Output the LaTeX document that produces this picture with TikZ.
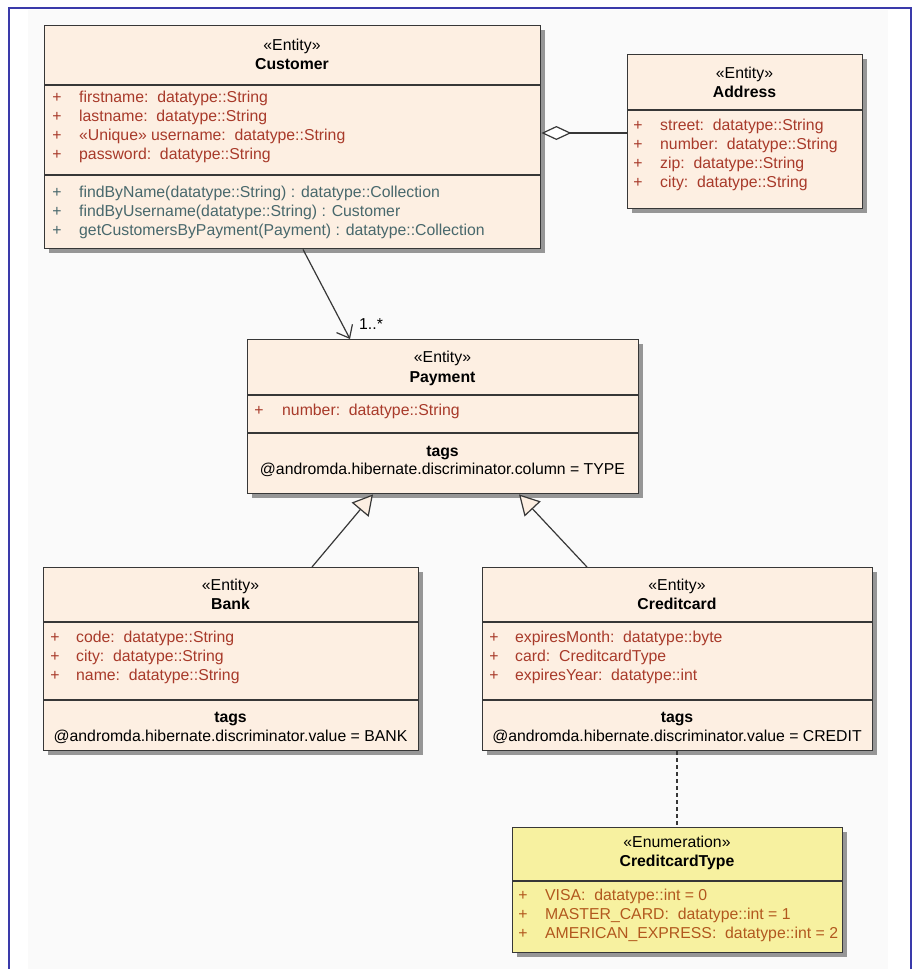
\documentclass[tikz,border=0pt]{standalone}
\usepackage{fontspec}
\setmainfont{Liberation Sans}
\usetikzlibrary{shadows,arrows.meta,calc}
\definecolor{entfill}{RGB}{253,239,226}
\definecolor{enumfill}{RGB}{247,241,160}
\definecolor{attrcol}{RGB}{168,58,42}
\definecolor{opcol}{RGB}{72,104,108}
\definecolor{enumcol}{RGB}{178,88,30}
\definecolor{framecol}{RGB}{58,58,170}
\definecolor{bgcol}{RGB}{250,250,250}
\definecolor{edgecol}{RGB}{55,55,55}
\begin{document}
\begin{tikzpicture}[x=1pt,y=-1pt,
  cls/.style={draw=edgecol, line width=1.4pt, fill=entfill, anchor=north west, inner sep=0pt,
    drop shadow={shadow xshift=4pt, shadow yshift=-4pt, fill=black, opacity=0.4}},
  enumcls/.style={cls, fill=enumfill},
  divider/.style={draw=edgecol, line width=1.4pt},
  txt/.style={font=\fontsize{15.8}{19}\selectfont, inner sep=0pt, anchor=base},
  ster/.style={txt},
  cname/.style={txt, font=\fontsize{15.8}{19}\selectfont\bfseries},
  plus/.style={txt, text=attrcol},
  attr/.style={txt, anchor=base west, text=attrcol},
  opplus/.style={txt, text=opcol},
  op/.style={txt, anchor=base west, text=opcol},
  enplus/.style={txt, text=enumcol},
  enitem/.style={txt, anchor=base west, text=enumcol},
  tagline/.style={txt},
  conn/.style={draw=edgecol, line width=1.2pt},
]
\useasboundingbox (0,0) rectangle (915,969);
\fill[white] (0,0) rectangle (915,969);
\fill[bgcol] (28,10) rectangle (888,969);
\draw[framecol, line width=2pt] (9,969) -- (9,8) -- (911,8) -- (911,969);

% ---------- Customer ----------
\node[cls, minimum width=496pt, minimum height=223pt] (cust) at (44,25) {};
\draw[divider] ($(cust.north west)+(0,60)$) -- ($(cust.north east)+(0,60)$);
\draw[divider] ($(cust.north west)+(0,150)$) -- ($(cust.north east)+(0,150)$);
\node[ster] (custS) at (292,50) {«Entity»};
\node[cname] (custN) at (292,69) {Customer};
\foreach \t [count=\i] in {{firstname:~~datatype::String},{lastname:~~datatype::String},{«Unique» username:~~datatype::String},{password:~~datatype::String}}{
  \node[plus] (custP\i) at (57,{102+19*(\i-1)}) {+};
  \node[attr] (custA\i) at (79,{102+19*(\i-1)}) {\t};
}
\foreach \t [count=\i] in {{findByName(datatype::String) : datatype::Collection},{findByUsername(datatype::String) : Customer},{getCustomersByPayment(Payment) : datatype::Collection}}{
  \node[opplus] (custQ\i) at (57,{197+19*(\i-1)}) {+};
  \node[op] (custO\i) at (79,{197+19*(\i-1)}) {\t};
}

% ---------- Address ----------
\node[cls, minimum width=235pt, minimum height=154pt] (addr) at (627,54) {};
\draw[divider] ($(addr.north west)+(0,56)$) -- ($(addr.north east)+(0,56)$);
\node[ster] (addrS) at (744.5,78) {«Entity»};
\node[cname] (addrN) at (744.5,97) {Address};
\foreach \t [count=\i] in {{street:~~datatype::String},{number:~~datatype::String},{zip:~~datatype::String},{city:~~datatype::String}}{
  \node[plus] (addrP\i) at (638,{130+19*(\i-1)}) {+};
  \node[attr] (addrA\i) at (660,{130+19*(\i-1)}) {\t};
}

% ---------- Payment ----------
\node[cls, minimum width=391pt, minimum height=154pt] (pay) at (247,339) {};
\draw[divider] ($(pay.north west)+(0,56)$) -- ($(pay.north east)+(0,56)$);
\draw[divider] ($(pay.north west)+(0,94)$) -- ($(pay.north east)+(0,94)$);
\node[ster] (payS) at (442.5,362) {«Entity»};
\node[cname] (payN) at (442.5,382) {Payment};
\node[plus] (payP1) at (259,415) {+};
\node[attr] (payA1) at (282,415) {number:~~datatype::String};
\node[cname] (payT) at (442.5,456) {tags};
\node[tagline] (payV) at (442.5,474) {@andromda.hibernate.discriminator.column = TYPE};

% ---------- Bank ----------
\node[cls, minimum width=375pt, minimum height=183pt] (bank) at (43,567) {};
\draw[divider] ($(bank.north west)+(0,55)$) -- ($(bank.north east)+(0,55)$);
\draw[divider] ($(bank.north west)+(0,133)$) -- ($(bank.north east)+(0,133)$);
\node[ster] (bankS) at (230.5,590) {«Entity»};
\node[cname] (bankN) at (230.5,609) {Bank};
\foreach \t [count=\i] in {{code:~~datatype::String},{city:~~datatype::String},{name:~~datatype::String}}{
  \node[plus] (bankP\i) at (55,{642+19*(\i-1)}) {+};
  \node[attr] (bankA\i) at (76,{642+19*(\i-1)}) {\t};
}
\node[cname] (bankT) at (230.5,722) {tags};
\node[tagline] (bankV) at (230.5,741) {@andromda.hibernate.discriminator.value = BANK};

% ---------- Creditcard ----------
\node[cls, minimum width=390pt, minimum height=183pt] (cc) at (482,567) {};
\draw[divider] ($(cc.north west)+(0,55)$) -- ($(cc.north east)+(0,55)$);
\draw[divider] ($(cc.north west)+(0,133)$) -- ($(cc.north east)+(0,133)$);
\node[ster] (ccS) at (677,590) {«Entity»};
\node[cname] (ccN) at (677,609) {Creditcard};
\foreach \t [count=\i] in {{expiresMonth:~~datatype::byte},{card:~~CreditcardType},{expiresYear:~~datatype::int}}{
  \node[plus] (ccP\i) at (494,{642+19*(\i-1)}) {+};
  \node[attr] (ccA\i) at (515,{642+19*(\i-1)}) {\t};
}
\node[cname] (ccT) at (677,722) {tags};
\node[tagline] (ccV) at (677,741) {@andromda.hibernate.discriminator.value = CREDIT};

% ---------- CreditcardType ----------
\node[enumcls, minimum width=330pt, minimum height=125pt] (ct) at (512,827) {};
\draw[divider] ($(ct.north west)+(0,54)$) -- ($(ct.north east)+(0,54)$);
\node[ster] (ctS) at (677,847) {«Enumeration»};
\node[cname] (ctN) at (677,866) {CreditcardType};
\foreach \t [count=\i] in {{VISA:~~datatype::int = 0},{MASTER\_CARD:~~datatype::int = 1},{AMERICAN\_EXPRESS:~~datatype::int = 2}}{
  \node[enplus] (ctP\i) at (523,{900+19*(\i-1)}) {+};
  \node[enitem] (ctA\i) at (545,{900+19*(\i-1)}) {\t};
}

% ---------- Connectors ----------
\draw[conn, -{Diamond[length=30pt, width=14pt, fill=white, line width=1.2pt]}]
  ($(addr.north west)+(0,79)$) -- ($(cust.north east)+(0,108)$);
\draw[conn, -{Straight Barb[length=11pt, width=18pt, line width=1.2pt]}]
  ($(cust.south west)+(259,0)$) -- ($(pay.north west)+(103,0)$);
\node[txt, anchor=base west] (mult) at (359,329) {1..*};
\draw[conn, -{Triangle[length=20pt, width=22pt, fill=entfill, line width=1.2pt]}]
  ($(bank.north west)+(269,0)$) -- ($(pay.south west)+(126,0)$);
\draw[conn, -{Triangle[length=20pt, width=22pt, fill=entfill, line width=1.2pt]}]
  ($(cc.north west)+(105,0)$) -- ($(pay.south west)+(272,0)$);
\draw[conn, dash pattern=on 4pt off 3pt]
  ($(cc.south west)+(195,0)$) -- ($(ct.north west)+(165,0)$);
\end{tikzpicture}
\end{document}
